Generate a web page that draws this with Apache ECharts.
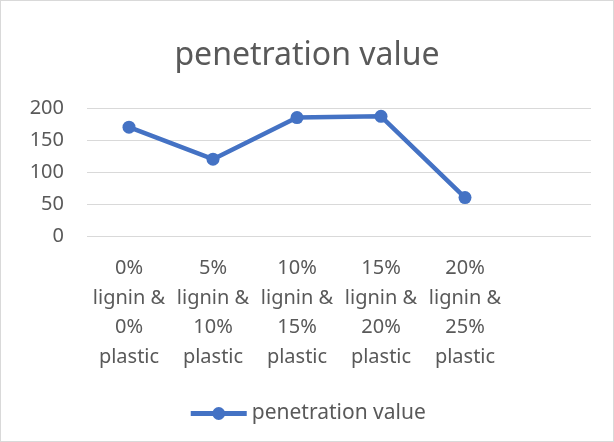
<!DOCTYPE html>
<html>
<head>
<meta charset="utf-8">
<script src="https://cdn.jsdelivr.net/npm/echarts@6/dist/echarts.min.js"></script>
<style>
  html, body { margin: 0; padding: 0; background: #fff; }
  #main { width: 612px; height: 440px; border: 1px solid #d9d9d9; }
</style>
</head>
<body>
<div id="main"></div>
<script>
// categories (last slot is empty, as in the original sheet)
const categories = [
  '0%\nlignin &\n0%\nplastic',
  '5%\nlignin &\n10%\nplastic',
  '10%\nlignin &\n15%\nplastic',
  '15%\nlignin &\n20%\nplastic',
  '20%\nlignin &\n25%\nplastic',
  ''
];
const penetration = [170, 120, 185, 187, 60, null];
const seriesName = 'penetration value';

const textColor = '#595959';
const font = 'Noto Sans';

const chart = echarts.init(document.getElementById('main'));
chart.setOption({
  title: {
    text: 'penetration value',
    left: 'center',
    top: 34,
    textStyle: { color: textColor, fontSize: 32, fontWeight: 'normal', fontFamily: font }
  },
  legend: {
    top: 397,
    left: 'center',
    itemWidth: 56,
    itemHeight: 16,
    itemGap: 4,
    lineStyle: { width: 5 },
    textStyle: { color: textColor, fontSize: 21, fontFamily: font },
    data: [seriesName]
  },
  grid: { left: 86, right: 22, top: 107, bottom: 205 },
  xAxis: {
    type: 'category',
    data: categories,
    boundaryGap: true,
    axisLine: { show: false },
    axisTick: { show: false },
    axisLabel: {
      interval: 0,
      color: textColor,
      fontSize: 20,
      lineHeight: 29.5,
      fontFamily: font,
      margin: 18
    }
  },
  yAxis: {
    type: 'value',
    min: 0,
    max: 200,
    interval: 50,
    axisLabel: { color: textColor, fontSize: 20, fontFamily: font, margin: 23 },
    splitLine: { lineStyle: { color: '#d9d9d9', width: 1 } }
  },
  series: [{
    name: seriesName,
    type: 'line',
    data: penetration,
    symbol: 'circle',
    symbolSize: 13,
    lineStyle: { color: '#4472C4', width: 4.5 },
    itemStyle: { color: '#4472C4' }
  }]
});
</script>
</body>
</html>
